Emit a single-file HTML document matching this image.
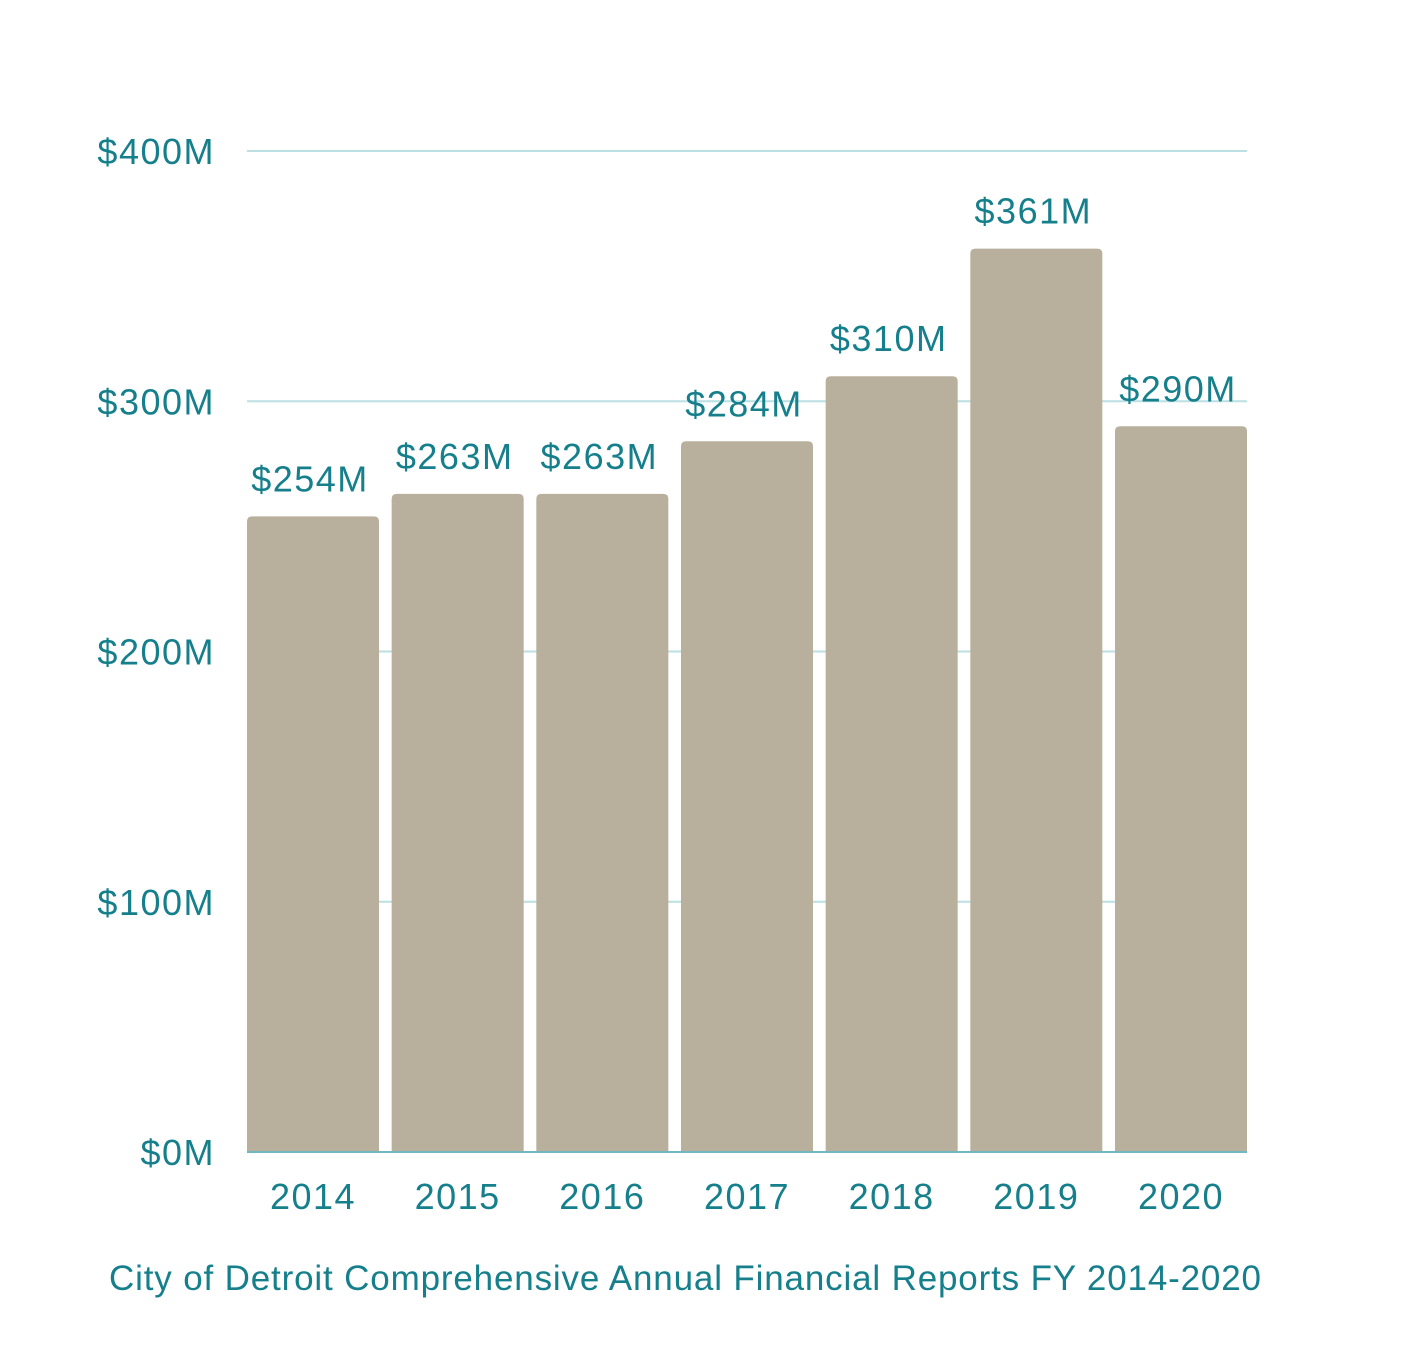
<!DOCTYPE html>
<html><head><meta charset="utf-8"><style>
html,body{margin:0;padding:0;background:#fff;}
svg{display:block;font-family:"Liberation Sans","DejaVu Sans",sans-serif;}
</style></head><body>
<svg id="chart" width="1420" height="1358" viewBox="0 0 1420 1358" xmlns="http://www.w3.org/2000/svg">
<g id="grid"></g>
<g id="bars"></g>
<g id="labels"></g>
<g id="yaxis"></g>
<g id="xaxis"></g>
<text x="685" y="1290" text-anchor="middle" font-size="35" fill="#167f8c" textLength="1152" lengthAdjust="spacing">City of Detroit Comprehensive Annual Financial Reports FY 2014-2020</text>
</svg>
<script>
const categories = ["2014","2015","2016","2017","2018","2019","2020"];
const values = [254,263,263,284,310,361,290];
const valueLabels = ["$254M","$263M","$263M","$284M","$310M","$361M","$290M"];
const yTicks = [0,100,200,300,400];
const yTickLabels = ["$0M","$100M","$200M","$300M","$400M"];

const NS="http://www.w3.org/2000/svg";
const x0=247,x1=1247,yBase=1152,yTop=151,yMax=400;
const barW=132, pitch=(x1-x0-barW)/(categories.length-1);
function y(v){return yBase-(v/yMax)*(yBase-yTop);}
function bx(i){return x0+i*pitch;}
function mk(tag,attrs,parent){const e=document.createElementNS(NS,tag);for(const k in attrs)e.setAttribute(k,attrs[k]);parent.appendChild(e);return e;}
const g=document.getElementById('grid'),b=document.getElementById('bars'),l=document.getElementById('labels'),ya=document.getElementById('yaxis'),xa=document.getElementById('xaxis');
yTicks.forEach((t,i)=>{
  if(t>0){const ln=mk('line',{x1:x0,x2:x1,y1:y(t),y2:y(t),stroke:'#bcdfe2','stroke-width':2},g);
  
  }
  const tx=mk('text',{x:215,y:y(t)+13,'text-anchor':'end','font-size':36,'letter-spacing':1.5,fill:'#167f8c'},ya);
  tx.textContent=yTickLabels[i];
  
  
});
categories.forEach((c,i)=>{
  const yy=y(values[i]);
  const p=mk('path',{d:`M${bx(i)},${yBase}V${yy+5}Q${bx(i)},${yy} ${bx(i)+5},${yy}H${bx(i)+barW-5}Q${bx(i)+barW},${yy} ${bx(i)+barW},${yy+5}V${yBase}Z`,fill:'#b8b09d'},b);
  
  
  const vt=mk('text',{x:bx(i)+barW/2-3,y:yy-25,'text-anchor':'middle','font-size':36,'letter-spacing':1.5,fill:'#167f8c'},l);
  vt.textContent=valueLabels[i];
  
  
  const xt=mk('text',{x:bx(i)+barW/2,y:1209,'text-anchor':'middle','font-size':36,'letter-spacing':1.5,fill:'#167f8c'},xa);
  xt.textContent=c;
  
  
});
const base=mk('line',{x1:x0,x2:x1,y1:yBase,y2:yBase,stroke:'#6fb8c0','stroke-width':2},xa);


</script>
</body></html>
